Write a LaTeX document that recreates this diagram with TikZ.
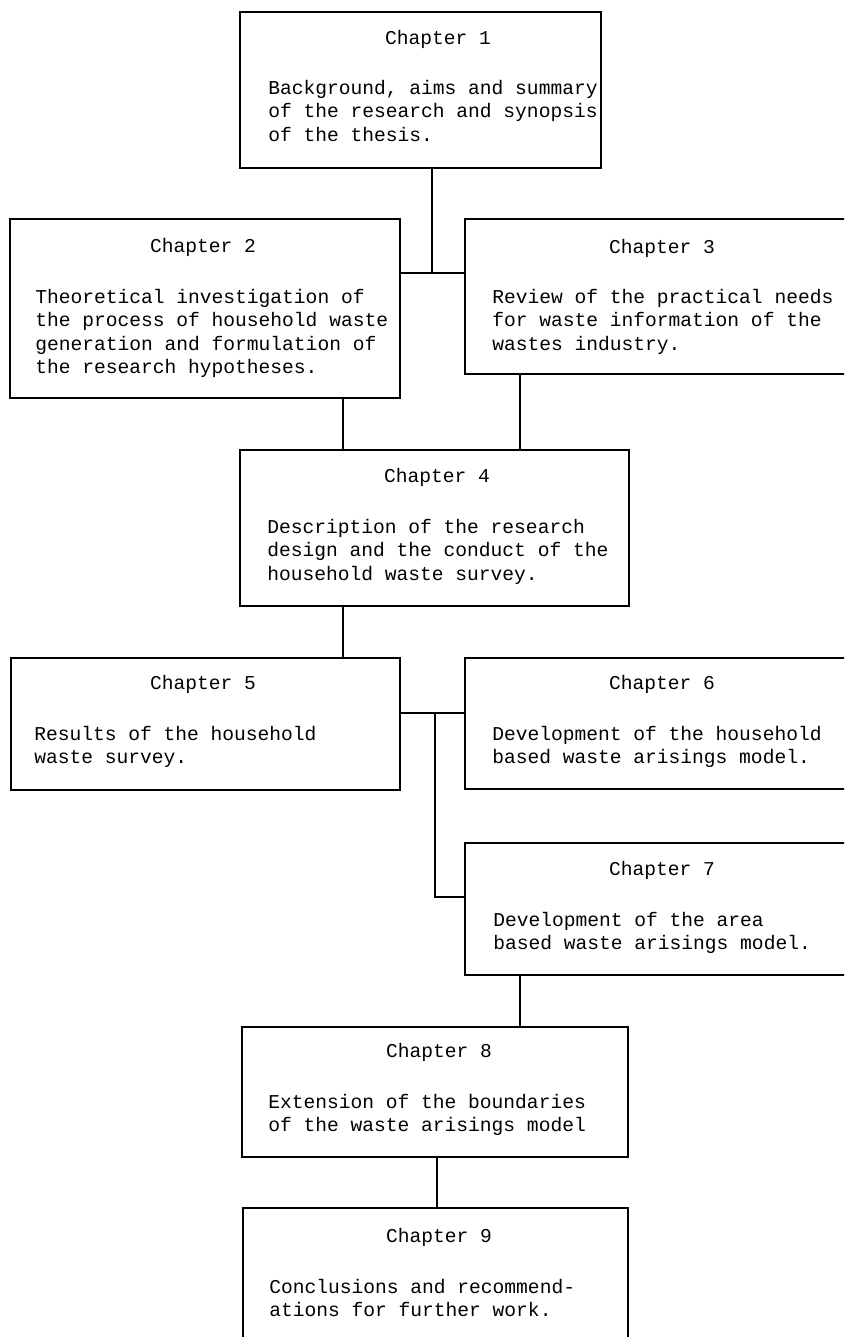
\documentclass[tikz,border=0pt]{standalone}
\usepackage{fontspec}
\setmonofont{Liberation Mono}
\usetikzlibrary{fit}
\begin{document}
\begin{tikzpicture}[x=0.75pt,y=-0.75pt,
  chbox/.style={draw, line width=1.4pt, rectangle, inner sep=0pt},
  ttl/.style={font=\ttfamily\fontsize{14.7pt}{17.5pt}\selectfont, anchor=mid, inner sep=0pt},
  bodytxt/.style={font=\ttfamily\fontsize{14.7pt}{17.5pt}\selectfont, align=left, anchor=north west, inner sep=0pt},
  conn/.style={line width=1.4pt}]
\useasboundingbox (0,0) rectangle (844,1337);
\clip (0,0) rectangle (844,1337);
% boxes
\node[chbox, fit={(240,12)(601,168)}] (c1) {};
\node[chbox, fit={(10,219)(400,398)}] (c2) {};
\node[chbox, fit={(465,219)(852,374)}] (c3) {};
\node[chbox, fit={(240,450)(629,606)}] (c4) {};
\node[chbox, fit={(11,658)(400,790)}] (c5) {};
\node[chbox, fit={(465,658)(852,789)}] (c6) {};
\node[chbox, fit={(465,843)(852,975)}] (c7) {};
\node[chbox, fit={(242,1027)(628,1157)}] (c8) {};
\node[chbox, fit={(243,1208)(628,1350)}] (c9) {};
% titles
\node[ttl] (t1) at (438,42) {Chapter 1};
\node[ttl] (t2) at (203,250) {Chapter 2};
\node[ttl] (t3) at (662,251) {Chapter 3};
\node[ttl] (t4) at (437,480) {Chapter 4};
\node[ttl] (t5) at (203,687) {Chapter 5};
\node[ttl] (t6) at (662,687) {Chapter 6};
\node[ttl] (t7) at (662,873) {Chapter 7};
\node[ttl] (t8) at (439,1055) {Chapter 8};
\node[ttl] (t9) at (439,1240) {Chapter 9};
% bodies
\node[bodytxt] (b1) at (268,80) {Background, aims and summary\\of the research and synopsis\\of the thesis.};
\node[bodytxt] (b2) at (35,289) {Theoretical investigation of\\the process of household waste\\generation and formulation of\\the research hypotheses.};
\node[bodytxt] (b3) at (492,289) {Review of the practical needs\\for waste information of the\\wastes industry.};
\node[bodytxt] (b4) at (267,519) {Description of the research\\design and the conduct of the\\household waste survey.};
\node[bodytxt] (b5) at (34,726) {Results of the household\\waste survey.};
\node[bodytxt] (b6) at (492,726) {Development of the household\\based waste arisings model.};
\node[bodytxt] (b7) at (493,912) {Development of the area\\based waste arisings model.};
\node[bodytxt] (b8) at (268,1094) {Extension of the boundaries\\of the waste arisings model};
\node[bodytxt] (b9) at (269,1279) {Conclusions and recommend-\\ations for further work.};
% connectors
\coordinate (j1) at (432,273);
\coordinate (k1) at (343,0);
\coordinate (k2) at (520,0);
\coordinate (k3) at (437,0);
\coordinate (j2) at (435,713);
\coordinate (j3) at (435,897);
\draw[conn] (c1.south -| j1) -- (j1);
\draw[conn] (c2.east |- j1) -- (c3.west |- j1);
\draw[conn] (c2.south -| k1) -- (c4.north -| k1);
\draw[conn] (c3.south -| k2) -- (c4.north -| k2);
\draw[conn] (c4.south -| k1) -- (c5.north -| k1);
\draw[conn] (c5.east |- j2) -- (c6.west |- j2);
\draw[conn] (j2) -- (j3) -- (c7.west |- j3);
\draw[conn] (c7.south -| k2) -- (c8.north -| k2);
\draw[conn] (c8.south -| k3) -- (c9.north -| k3);
\end{tikzpicture}
\end{document}
